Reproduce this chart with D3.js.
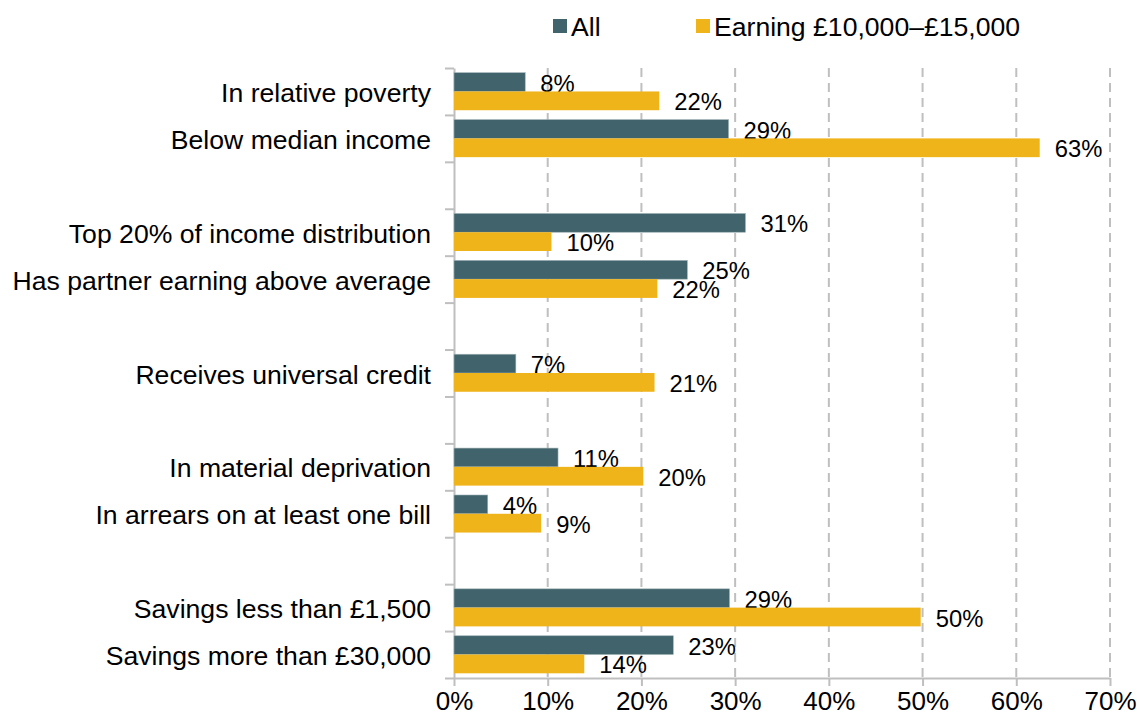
<!DOCTYPE html>
<html>
<head>
<meta charset="utf-8">
<script src="https://cdn.jsdelivr.net/npm/d3@7"></script>
<style>
  body { margin: 0; background: #fff; }
  text { font-family: "Liberation Sans", Arial, sans-serif; fill: #000; }
</style>
</head>
<body>
<div id="chart"></div>
<script>
// Data
//-----------
// empty strings are spacer rows between groups
var categories = [
	"In relative poverty",
	"Below median income",
	"",
	"Top 20% of income distribution",
	"Has partner earning above average",
	"",
	"Receives universal credit",
	"",
	"In material deprivation",
	"In arrears on at least one bill",
	"",
	"Savings less than £1,500",
	"Savings more than £30,000"
];
var allValues  = [7.6, 29.3, null, 31.1, 24.9, null, 6.6, null, 11.1, 3.6, null, 29.4, 23.4];
var earnValues = [21.9, 62.5, null, 10.4, 21.7, null, 21.4, null, 20.2, 9.3, null, 49.8, 13.9];
var seriesNames = ["All", "Earning £10,000–£15,000"];
var xTicks = [0, 10, 20, 30, 40, 50, 60, 70];

// Visualization attributes
//-----------
var w = 1137, h = 722;
var plotLeft = 454, plotRight = 1110, plotTop = 68, plotBottom = 678;
var colors = ["#41636b", "#f0b41b"];
var gridColor = "#bfbfbf";

var svg = d3.select("#chart").append("svg")
	.attr("width", w)
	.attr("height", h);

// Scales
//-----------
var x = d3.scaleLinear([0, 70], [plotLeft, plotRight]);
var y = d3.scaleBand(d3.range(categories.length), [plotTop, plotBottom]);
var slot = y.bandwidth();
var barH = slot * 0.4;
var barOff = (slot - 2 * barH) / 2;

// Gridlines
//-----------
svg.append("g")
	.selectAll("line")
	.data(xTicks.slice(1))
	.enter()
	.append("line")
	.attr("x1", function(d) { return x(d); })
	.attr("x2", function(d) { return x(d); })
	.attr("y1", plotTop)
	.attr("y2", plotBottom)
	.attr("stroke", gridColor)
	.attr("stroke-width", 2)
	.attr("stroke-dasharray", "9,6");

// Axes
//-----------
var xAxis = svg.append("g")
	.attr("transform", "translate(0," + plotBottom + ")")
	.call(d3.axisBottom(x).tickValues(xTicks).tickFormat(function(d) { return d + "%"; }).tickSize(8).tickSizeOuter(0));
xAxis.select(".domain").attr("stroke", gridColor).attr("stroke-width", 2);
xAxis.selectAll(".tick line").attr("stroke", gridColor).attr("stroke-width", 2);
xAxis.selectAll(".tick text")
	.attr("font-size", "26px")
	.attr("font-family", "Liberation Sans, Arial, sans-serif")
	.attr("fill", "#000")
	.attr("y", 14);

var slotScale = d3.scaleLinear([0, categories.length], [plotTop, plotBottom]);
var yAxis = svg.append("g")
	.attr("transform", "translate(" + plotLeft + ",0)")
	.call(d3.axisLeft(slotScale).tickValues(d3.range(categories.length + 1)).tickFormat("").tickSize(9).tickSizeOuter(0));
yAxis.select(".domain").attr("stroke", gridColor).attr("stroke-width", 2);
yAxis.selectAll(".tick line").attr("stroke", gridColor).attr("stroke-width", 2);

// Category labels
//-----------
svg.append("g")
	.selectAll("text")
	.data(categories)
	.enter()
	.append("text")
	.text(function(d) { return d; })
	.attr("text-anchor", "end")
	.attr("dominant-baseline", "central")
	.attr("x", plotLeft - 23)
	.attr("y", function(d, i) { return y(i) + slot / 2 + 1.5; })
	.attr("font-size", "26.6px");

// Bars and value labels
//-----------
[allValues, earnValues].forEach(function(values, s) {
	var rows = values.map(function(v, i) { return {i: i, v: v}; })
		.filter(function(d) { return d.v !== null; });

	svg.append("g")
		.selectAll("rect")
		.data(rows)
		.enter()
		.append("rect")
		.attr("x", x(0))
		.attr("y", function(d) { return y(d.i) + barOff + s * barH; })
		.attr("width", function(d) { return x(d.v) - x(0); })
		.attr("height", barH)
		.attr("fill", colors[s])
		.attr("stroke", s === 0 ? "#9fb2b6" : "none")
		.attr("stroke-width", 0.6);

	svg.append("g")
		.selectAll("text")
		.data(rows)
		.enter()
		.append("text")
		.text(function(d) { return Math.round(d.v) + "%"; })
		.attr("x", function(d) { return x(d.v) + 15; })
		.attr("y", function(d) { return y(d.i) + barOff + s * barH + barH / 2 + 1; })
		.attr("dominant-baseline", "central")
		.attr("font-size", "23.8px");
});

// Legend
//-----------
var legendX = [553, 696];
var legend = svg.append("g")
	.selectAll("g")
	.data(seriesNames)
	.enter()
	.append("g")
	.attr("transform", function(d, i) { return "translate(" + legendX[i] + ",19)"; });
legend.append("rect")
	.attr("width", 14)
	.attr("height", 14)
	.attr("fill", function(d, i) { return colors[i]; });
legend.append("text")
	.text(function(d) { return d; })
	.attr("x", 18)
	.attr("y", 8)
	.attr("dominant-baseline", "central")
	.attr("font-size", "26.6px");
</script>
</body>
</html>
